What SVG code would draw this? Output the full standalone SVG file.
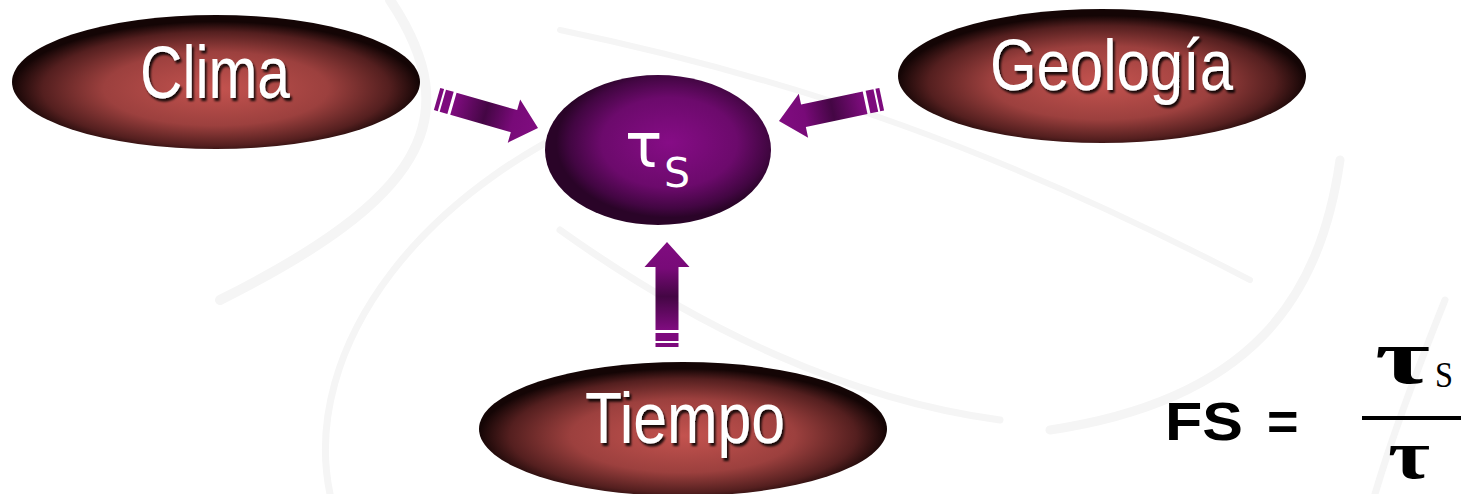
<svg xmlns="http://www.w3.org/2000/svg" width="1461" height="494" viewBox="0 0 1461 494">
<style>
.lbl{font-family:"Liberation Sans",Arial,sans-serif;fill:#fff;filter:url(#sh)}
.tau{font-family:"DejaVu Sans",sans-serif;fill:#fff}
.sw{fill:none;stroke:#f5f5f5;stroke-linecap:round}
.arr{fill:url(#ag)}
.str{fill:#7d0a7d}
</style>
<defs>
<radialGradient id="rg" cx="50%" cy="55%" r="50%">
<stop offset="0" stop-color="#c4534f"/>
<stop offset="0.55" stop-color="#9c403e"/>
<stop offset="0.85" stop-color="#541f1f"/>
<stop offset="1" stop-color="#140505"/>
</radialGradient>
<radialGradient id="pg" cx="55%" cy="45%" r="50%">
<stop offset="0" stop-color="#860c86"/>
<stop offset="0.6" stop-color="#6c0a6c"/>
<stop offset="0.88" stop-color="#420642"/>
<stop offset="1" stop-color="#2a0428"/>
</radialGradient>
<linearGradient id="ag" x1="0" y1="0" x2="0" y2="1">
<stop offset="0" stop-color="#800c80"/>
<stop offset="0.3" stop-color="#780a78"/>
<stop offset="0.62" stop-color="#440644"/>
<stop offset="1" stop-color="#800c80"/>
</linearGradient>
<filter id="sh" x="-10%" y="-20%" width="130%" height="150%">
<feDropShadow dx="2" dy="3" stdDeviation="1.2" flood-color="#000" flood-opacity="0.85"/>
</filter>
<g id="arrowShape">
<polygon class="arr" points="0,0 22.5,25 11.5,25 11.5,88 -11.5,88 -11.5,25 -22.5,25"/>
<rect class="str" x="-11.5" y="91" width="23" height="8"/>
<rect class="str" x="-11.5" y="101" width="23" height="4"/>
</g>
</defs>
<rect width="1461" height="494" fill="#fff"/>
<g id="background">
<path class="sw" stroke-width="10" d="M390 0 C470 120 420 200 220 300"/>
<path class="sw" stroke-width="7" d="M330 494 C300 350 420 180 640 100"/>
<path class="sw" stroke-width="7" d="M560 230 C700 330 850 400 1000 420"/>
<path class="sw" stroke-width="9" d="M1340 160 C1320 300 1250 400 1050 430"/>
<path class="sw" stroke-width="7" d="M1445 300 C1405 400 1385 460 1375 494"/>
<path class="sw" stroke-width="6" d="M560 30 C800 80 1000 150 1250 280"/>
</g>
<g id="connectors">
<use href="#arrowShape" transform="translate(538,128) rotate(106)"/>
<use href="#arrowShape" transform="translate(779,121) rotate(-102)"/>
<use href="#arrowShape" transform="translate(667,242)"/>
</g>
<g id="node-clima">
<ellipse cx="216" cy="82" rx="204" ry="67" fill="url(#rg)"/>
<text class="lbl" x="140" y="98" font-size="74" textLength="150" lengthAdjust="spacingAndGlyphs">Clima</text>
</g>
<g id="node-geologia">
<ellipse cx="1102" cy="76" rx="204" ry="67" fill="url(#rg)"/>
<text class="lbl" x="990" y="90" font-size="72" textLength="243" lengthAdjust="spacingAndGlyphs">Geología</text>
</g>
<g id="node-tiempo">
<ellipse cx="683" cy="429" rx="204" ry="67" fill="url(#rg)"/>
<text class="lbl" x="585" y="443" font-size="73" textLength="200" lengthAdjust="spacingAndGlyphs">Tiempo</text>
</g>
<g id="node-taus">
<ellipse cx="658" cy="150" rx="113" ry="75" fill="url(#pg)"/>
<text class="tau" x="625" y="167" font-size="62">τ</text>
<text class="tau" x="664" y="187" font-size="41">S</text>
</g>
<g id="formula">
<text x="1165" y="440" font-family="Liberation Sans,Arial,sans-serif" font-weight="bold" font-size="54" textLength="78" lengthAdjust="spacingAndGlyphs">FS</text>
<text x="1267" y="440" font-family="Liberation Sans,Arial,sans-serif" font-weight="bold" font-size="54">=</text>
<rect x="1362" y="416" width="99" height="4" fill="#000"/>
<text x="1375" y="383" font-family="Liberation Serif,serif" font-weight="bold" font-size="78" textLength="55" lengthAdjust="spacingAndGlyphs">τ</text>
<text x="1435" y="387" font-family="Liberation Serif,serif" font-size="36" textLength="18" lengthAdjust="spacingAndGlyphs">S</text>
<text x="1388" y="478" font-family="Liberation Serif,serif" font-weight="bold" font-size="70" textLength="42" lengthAdjust="spacingAndGlyphs">τ</text>
</g>
</svg>
